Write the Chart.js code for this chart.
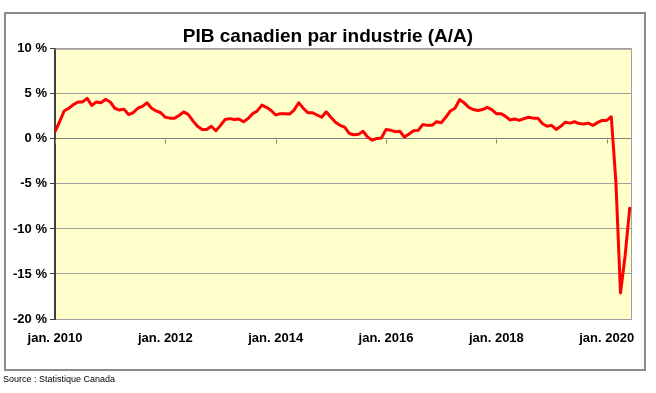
<!DOCTYPE html>
<html lang="fr">
<head>
    <meta charset="UTF-8">
    <title>PIB canadien par industrie (A/A)</title>
    <style>
        html, body {
            margin: 0;
            padding: 0;
            background: #FFFFFF;
        }

        body {
            position: relative;
            width: 656px;
            height: 393px;
            overflow: hidden;
            font-family: 'Liberation Sans', Arial, sans-serif;
        }

        .frame {
            position: absolute;
            left: 4px;
            top: 12px;
            width: 638px;
            height: 355px;
            border: 2px solid #8C8C8C;
        }

        #gdpChart {
            position: absolute;
            left: 0;
            top: 0;
        }

        .source {
            position: absolute;
            left: 3px;
            top: 374px;
            font-size: 9px;
            color: #000000;
        }
    </style>
    <script src="https://cdn.jsdelivr.net/npm/chart.js"></script>
</head>
<body>
    <div class="frame"></div>
    <canvas id="gdpChart" width="656" height="393"></canvas>
    <div class="source">Source : Statistique Canada</div>

    <script>
        // PIB réel par industrie, variation annuelle (%), janv. 2010 -> juin 2020, mensuel
        const gdpYoY = [
            0.8, 1.9, 3.1, 3.4, 3.8, 4.1, 4.1, 4.5, 3.7, 4.1, 4.0, 4.4,        // 2010
            4.1, 3.4, 3.2, 3.3, 2.7, 2.9, 3.4, 3.6, 4.0, 3.4, 3.1, 2.9,        // 2011
            2.4, 2.3, 2.3, 2.6, 3.0, 2.7, 2.0, 1.4, 1.05, 1.05, 1.4, 0.9,      // 2012
            1.5, 2.15, 2.25, 2.15, 2.2, 1.9, 2.25, 2.8, 3.1, 3.75, 3.5, 3.15,  // 2013
            2.65, 2.8, 2.8, 2.75, 3.2, 4.0, 3.4, 2.9, 2.9, 2.65, 2.4, 3.0,     // 2014
            2.4, 1.85, 1.5, 1.3, 0.6, 0.45, 0.5, 0.85, 0.2, -0.15, 0.05, 0.1,  // 2015
            1.05, 0.95, 0.8, 0.85, 0.2, 0.55, 0.9, 0.95, 1.6, 1.5, 1.5, 1.9,   // 2016
            1.8, 2.4, 3.1, 3.4, 4.35, 4.0, 3.5, 3.25, 3.15, 3.25, 3.5, 3.25,   // 2017
            2.8, 2.8, 2.5, 2.1, 2.2, 2.05, 2.25, 2.4, 2.3, 2.3, 1.7, 1.4,      // 2018
            1.5, 1.05, 1.4, 1.85, 1.75, 1.9, 1.7, 1.65, 1.75, 1.5, 1.8, 2.05,  // 2019
            2.05, 2.45, -4.8, -17.1, -13.0, -7.7                               // 2020
        ];

        // one label every 24 months
        const xTickLabels = ['jan. 2010', 'jan. 2012', 'jan. 2014', 'jan. 2016', 'jan. 2018', 'jan. 2020'];
        const monthsPerTick = 24;
        const yTickValues = [10, 5, 0, -5, -10, -15, -20];

        const fontFamily = "'Liberation Sans', Arial, sans-serif";

        // plot background, border and the small category ticks on the 0 % line
        const plotDecor = {
            id: 'plotDecor',
            beforeDraw(chart) {
                const { ctx, chartArea: a } = chart;
                ctx.save();
                ctx.fillStyle = '#FFFFCC';
                ctx.fillRect(a.left, a.top, a.right - a.left, a.bottom - a.top);
                ctx.restore();
            },
            beforeDatasetsDraw(chart) {
                const { ctx, chartArea: a, scales } = chart;
                ctx.save();
                ctx.strokeStyle = '#A0A0A0';
                ctx.lineWidth = 1;
                ctx.beginPath();
                ctx.moveTo(a.left, a.top + 0.5);
                ctx.lineTo(a.right - 0.5, a.top + 0.5);
                ctx.lineTo(a.right - 0.5, a.bottom);
                ctx.stroke();

                const y0 = Math.round(scales.y.getPixelForValue(0)) + 0.5;
                ctx.strokeStyle = '#808080';
                ctx.beginPath();
                xTickLabels.forEach((_, k) => {
                    const px = Math.round(scales.x.getPixelForValue(k * monthsPerTick)) + 0.5;
                    ctx.moveTo(px, y0);
                    ctx.lineTo(px, y0 + 4);
                });
                ctx.stroke();
                ctx.restore();
            }
        };

        const ctx = document.getElementById('gdpChart').getContext('2d');
        const chart = new Chart(ctx, {
            type: 'line',
            data: {
                datasets: [{
                    label: 'PIB (A/A)',
                    data: gdpYoY.map((v, i) => ({ x: i, y: v })),
                    borderColor: '#FF0000',
                    borderWidth: 3,
                    pointRadius: 0,
                    tension: 0,
                    borderJoinStyle: 'round',
                    borderCapStyle: 'round'
                }]
            },
            options: {
                responsive: false,
                animation: false,
                devicePixelRatio: 1,
                layout: { padding: 0 },
                plugins: {
                    legend: { display: false },
                    tooltip: { enabled: false },
                    title: {
                        display: true,
                        text: 'PIB canadien par industrie (A/A)',
                        color: '#000000',
                        font: { family: fontFamily, size: 19, weight: 'bold', lineHeight: 1.2 },
                        padding: { top: 25, bottom: 1 }
                    }
                },
                scales: {
                    x: {
                        type: 'linear',
                        min: 0,
                        max: 125.5,
                        afterFit(scale) { scale.height = 74; },
                        afterBuildTicks(scale) {
                            scale.ticks = xTickLabels.map((_, k) => ({ value: k * monthsPerTick }));
                        },
                        grid: { display: false, drawTicks: false },
                        border: { display: false },
                        ticks: {
                            color: '#000000',
                            padding: 12,
                            maxRotation: 0,
                            autoSkip: false,
                            font: { family: fontFamily, size: 13, weight: 'bold' },
                            callback: (v) => xTickLabels[Math.round(v / monthsPerTick)]
                        }
                    },
                    y: {
                        min: -20,
                        max: 10,
                        afterFit(scale) { scale.width = 55; },
                        afterBuildTicks(scale) {
                            scale.ticks = yTickValues.map(v => ({ value: v }));
                        },
                        grid: {
                            color: (c) => c.tick && c.tick.value === 0 ? '#808080' : '#A0A0A0',
                            lineWidth: 1,
                            drawTicks: true,
                            tickLength: 5,
                            tickColor: '#404040'
                        },
                        border: { color: '#404040', width: 2 },
                        ticks: {
                            color: '#000000',
                            padding: 3,
                            font: { family: fontFamily, size: 13, weight: 'bold' },
                            callback: (v) => v + ' %'
                        }
                    },
                    // empty right margin so the title stays centred on the whole frame
                    yRight: {
                        position: 'right',
                        min: -20,
                        max: 10,
                        afterFit(scale) { scale.width = 24; },
                        grid: { display: false, drawTicks: false },
                        border: { display: false },
                        ticks: { display: false }
                    }
                }
            },
            plugins: [plotDecor]
        });
    </script>
</body>
</html>
